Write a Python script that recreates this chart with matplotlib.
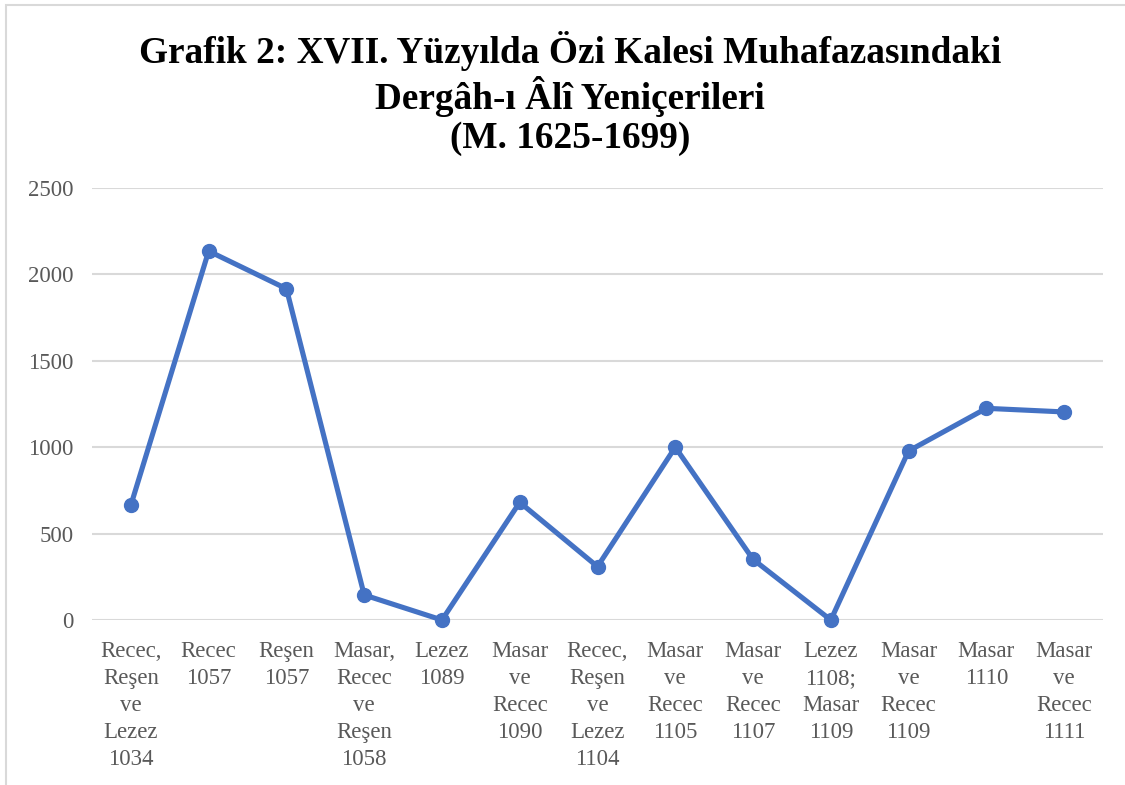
import matplotlib
matplotlib.use("Agg")
import matplotlib.pyplot as plt
from matplotlib.patches import Rectangle

categories = [
    "Recec,\nReşen\nve\nLezez\n1034",
    "Recec\n1057",
    "Reşen\n1057",
    "Masar,\nRecec\nve\nReşen\n1058",
    "Lezez\n1089",
    "Masar\nve\nRecec\n1090",
    "Recec,\nReşen\nve\nLezez\n1104",
    "Masar\nve\nRecec\n1105",
    "Masar\nve\nRecec\n1107",
    "Lezez\n1108;\nMasar\n1109",
    "Masar\nve\nRecec\n1109",
    "Masar\n1110",
    "Masar\nve\nRecec\n1111",
]
values = [665, 2135, 1917, 145, 0, 681, 309, 1000, 351, 0, 978, 1225, 1204]
yticks = [0, 500, 1000, 1500, 2000, 2500]
title = "Grafik 2: XVII. Yüzyılda Özi Kalesi Muhafazasındaki\nDergâh-ı Âlî Yeniçerileri\n(M. 1625-1699)"

W, H = 1125, 785
fig = plt.figure(figsize=(W / 100, H / 100), dpi=100)
fig.patch.set_facecolor("white")

# outer chart border (cropped at right/bottom)
fig.patches.append(Rectangle((6 / W, -0.1), 1.2, 1 - 5 / H + 0.1, transform=fig.transFigure,
                             fill=False, edgecolor="#d9d9d9", linewidth=1.5))

ax = fig.add_axes([92 / W, 1 - 620 / H, (1103 - 92) / W, (620 - 188) / H])
x = list(range(len(values)))
ax.plot(x, values, color="#4472C4", linewidth=3.7, marker="o", markersize=10,
        solid_joinstyle="round", zorder=3, clip_on=False)
ax.set_xlim(-0.5, len(values) - 0.5)
ax.set_ylim(0, 2500)
ax.set_yticks(yticks)
ax.set_yticklabels([str(v) for v in yticks])
ax.set_xticks(x)
ax.set_xticklabels(categories, linespacing=1.38, multialignment="center")
for s in ax.spines.values():
    s.set_visible(False)
ax.grid(axis="y", color="#d9d9d9", linewidth=1.5)
ax.set_axisbelow(True)
ax.tick_params(axis="both", length=0, colors="#595959", labelsize=16.5)
ax.tick_params(axis="x", pad=15)
ax.tick_params(axis="y", pad=13.5)
for lab in ax.get_xticklabels() + ax.get_yticklabels():
    lab.set_family("Liberation Serif")

fig.text(570 / W, 1 - 31 / H, title, ha="center", va="top", fontsize=26.8, fontweight="bold",
         family="Liberation Serif", linespacing=1.15, color="black")

fig.savefig("out.png", dpi=100)
